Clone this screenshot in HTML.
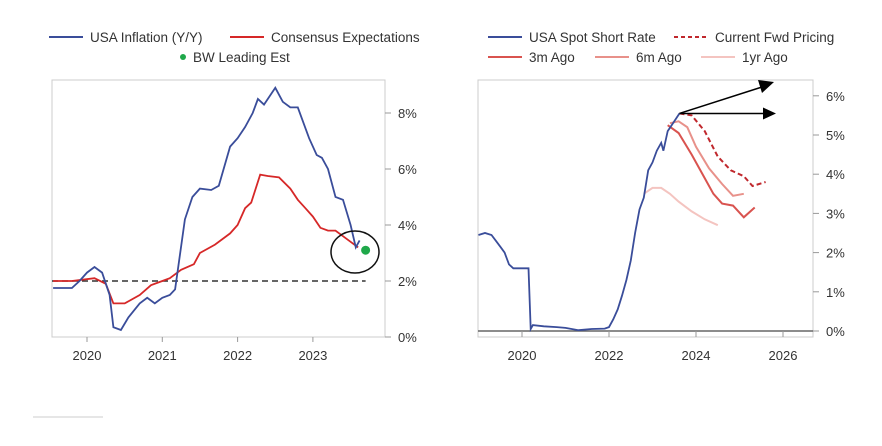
<!DOCTYPE html>
<html><head><meta charset="utf-8"><style>
body{margin:0;background:#fff;width:882px;height:441px;overflow:hidden;font-family:"Liberation Sans",sans-serif}
svg text{font-family:"Liberation Sans",sans-serif;fill:#333}
</style></head><body>
<svg id="c" width="882" height="441"></svg>
<script>
// Left chart data
const infYears=[2019.55,2019.8,2019.9,2020.0,2020.1,2020.2,2020.3,2020.35,2020.45,2020.55,2020.7,2020.8,2020.9,2021.0,2021.1,2021.17,2021.3,2021.4,2021.5,2021.65,2021.75,2021.9,2022.0,2022.1,2022.2,2022.27,2022.35,2022.5,2022.6,2022.7,2022.8,2022.95,2023.05,2023.12,2023.2,2023.3,2023.4,2023.5,2023.57,2023.62];
const infVals=[1.75,1.75,2.0,2.3,2.5,2.3,1.5,0.35,0.25,0.7,1.2,1.4,1.2,1.4,1.5,1.7,4.2,5.0,5.3,5.25,5.4,6.8,7.1,7.5,8.0,8.5,8.3,8.9,8.4,8.2,8.2,7.1,6.5,6.4,6.0,5.0,4.9,4.0,3.2,3.45];
const consYears=[2019.55,2019.8,2020.1,2020.25,2020.35,2020.5,2020.7,2020.85,2021.0,2021.1,2021.25,2021.42,2021.5,2021.7,2021.9,2022.0,2022.1,2022.18,2022.3,2022.4,2022.55,2022.7,2022.8,2022.9,2023.0,2023.1,2023.2,2023.3,2023.4,2023.5,2023.6];
const consVals=[2.0,2.0,2.1,1.9,1.2,1.2,1.5,1.85,2.0,2.1,2.4,2.6,3.0,3.3,3.7,4.0,4.6,4.8,5.8,5.75,5.7,5.3,4.9,4.6,4.3,3.9,3.8,3.8,3.6,3.4,3.2];
const bwEst=[2023.7,3.1];
const leftTicksX=[2020,2021,2022,2023];
const leftTicksY=[0,2,4,6,8];
// Right chart data
const spotYears=[2019.0,2019.15,2019.3,2019.4,2019.5,2019.6,2019.7,2019.8,2020.0,2020.15,2020.2,2020.25,2020.5,2020.8,2021.0,2021.3,2021.6,2021.9,2022.0,2022.1,2022.2,2022.3,2022.4,2022.5,2022.6,2022.7,2022.8,2022.9,2023.0,2023.1,2023.2,2023.25,2023.35,2023.5,2023.62];
const spotVals=[2.45,2.5,2.45,2.3,2.15,2.0,1.7,1.6,1.6,1.6,0.05,0.15,0.12,0.1,0.08,0.02,0.05,0.06,0.1,0.3,0.55,0.9,1.3,1.8,2.5,3.1,3.4,4.1,4.3,4.6,4.8,4.6,5.1,5.35,5.55];
const fwdYears=[2023.62,2023.9,2024.2,2024.5,2024.8,2025.1,2025.3,2025.6];
const fwdVals=[5.55,5.5,5.1,4.45,4.1,3.95,3.7,3.8];
const m3Years=[2023.35,2023.6,2023.9,2024.2,2024.4,2024.6,2024.85,2025.1,2025.35];
const m3Vals=[5.25,5.05,4.5,3.9,3.5,3.25,3.2,2.9,3.15];
const m6Years=[2023.4,2023.6,2023.8,2024.0,2024.3,2024.6,2024.85,2025.1];
const m6Vals=[5.3,5.35,5.2,4.7,4.15,3.75,3.45,3.5];
const y1Years=[2022.8,2023.0,2023.2,2023.4,2023.6,2023.9,2024.2,2024.5];
const y1Vals=[3.5,3.65,3.65,3.5,3.3,3.05,2.85,2.7];
const rightTicksX=[2020,2022,2024,2026];
const rightTicksY=[0,1,2,3,4,5,6];

const svg=document.getElementById('c');
const NS='http://www.w3.org/2000/svg';
function mk(tag,attrs,parent){const e=document.createElementNS(NS,tag);for(const k in attrs)e.setAttribute(k,attrs[k]);(parent||svg).appendChild(e);return e;}
function pts(xs,ys,fx,fy){return xs.map((x,i)=>fx(x).toFixed(1)+','+fy(ys[i]).toFixed(1)).join(' ');}

// left scales
const lx=y=>87+(y-2020)*75.3;
const ly=v=>337-v*28;
let e;
e=mk('rect',{x:52,y:80,width:333,height:257,fill:'none',stroke:'#ccc','stroke-width':1});


leftTicksX.forEach(t=>{
 e=mk('line',{x1:lx(t),x2:lx(t),y1:337,y2:342,stroke:'#999'});
 
 
 e=mk('text',{x:lx(t),y:360,'text-anchor':'middle','font-size':13});e.textContent=t;
 
 
});
leftTicksY.forEach(t=>{
 e=mk('line',{x1:385,x2:391,y1:ly(t),y2:ly(t),stroke:'#999'});
 
 
 e=mk('text',{x:398,y:ly(t)+5,'font-size':13});e.textContent=t+'%';
 
 
});
e=mk('line',{x1:52,x2:lx(bwEst[0]),y1:ly(2),y2:ly(2),stroke:'#333','stroke-width':1.5,'stroke-dasharray':'6,4'});


e=mk('polyline',{points:pts(consYears,consVals,lx,ly),fill:'none',stroke:'#d62828','stroke-width':1.8});


e=mk('polyline',{points:pts(infYears,infVals,lx,ly),fill:'none',stroke:'#3a4d9a','stroke-width':1.8});


e=mk('circle',{cx:lx(bwEst[0]),cy:ly(bwEst[1]),r:4.5,fill:'#1fa84a'});


e=mk('ellipse',{cx:355,cy:252,rx:24,ry:21,fill:'none',stroke:'#111','stroke-width':1.5});



// right scales
const rx=y=>522+(y-2020)*43.5;
const ry=v=>331-v*39.2;
e=mk('rect',{x:478,y:80,width:335,height:257,fill:'none',stroke:'#ccc','stroke-width':1});


e=mk('line',{x1:478,x2:813,y1:ry(0),y2:ry(0),stroke:'#666','stroke-width':1.5});


rightTicksX.forEach(t=>{
 e=mk('line',{x1:rx(t),x2:rx(t),y1:331,y2:337,stroke:'#999'});
 
 
 e=mk('text',{x:rx(t),y:360,'text-anchor':'middle','font-size':13});e.textContent=t;
 
 
});
rightTicksY.forEach(t=>{
 e=mk('line',{x1:813,x2:819,y1:ry(t),y2:ry(t),stroke:'#999'});
 
 
 e=mk('text',{x:826,y:ry(t)+5,'font-size':13});e.textContent=t+'%';
 
 
});
e=mk('polyline',{points:pts(y1Years,y1Vals,rx,ry),fill:'none',stroke:'#f4c4c0','stroke-width':2});


e=mk('polyline',{points:pts(m6Years,m6Vals,rx,ry),fill:'none',stroke:'#e8918a','stroke-width':2});


e=mk('polyline',{points:pts(m3Years,m3Vals,rx,ry),fill:'none',stroke:'#d9534f','stroke-width':2});


e=mk('polyline',{points:pts(fwdYears,fwdVals,rx,ry),fill:'none',stroke:'#c0282d','stroke-width':2,'stroke-dasharray':'5,3'});


e=mk('polyline',{points:pts(spotYears,spotVals,rx,ry),fill:'none',stroke:'#3a4d9a','stroke-width':1.8});


// arrows
const ax=rx(spotYears[spotYears.length-1]),ay=ry(spotVals[spotVals.length-1]);
e=mk('line',{x1:ax,y1:ay,x2:762,y2:87,stroke:'#000','stroke-width':1.5});


e=mk('polygon',{points:'774,82 758,80 762,93',fill:'#000'});


e=mk('line',{x1:ax,y1:ay,x2:765,y2:ay,stroke:'#000','stroke-width':1.5});


e=mk('polygon',{points:`776,${ay} 763,${ay-6} 763,${ay+6}`,fill:'#000'});



// legends
function legLine(x,y,color,dash,label,name){
 const g=mk('g',{});
 
 
 const a={x1:x,x2:x+34,y1:y,y2:y,stroke:color,'stroke-width':2};
 if(dash)a['stroke-dasharray']='4,3';
 mk('line',a,g);
 const t=mk('text',{x:x+41,y:y+5,'font-size':13.5},g);t.textContent=label;
}
legLine(49,37,'#3a4d9a',false,'USA Inflation (Y/Y)','legend-inflation');
legLine(230,37,'#d62828',false,'Consensus Expectations','legend-consensus');
e=mk('circle',{cx:183,cy:57,r:3,fill:'#1fa84a'});


e=mk('text',{x:193,y:62,'font-size':13.5});e.textContent='BW Leading Est';


legLine(488,37,'#3a4d9a',false,'USA Spot Short Rate','legend-spot');
legLine(674,37,'#c0282d',true,'Current Fwd Pricing','legend-fwd');
legLine(488,57,'#d9534f',false,'3m Ago','legend-3m');
legLine(595,57,'#e8918a',false,'6m Ago','legend-6m');
legLine(701,57,'#f4c4c0',false,'1yr Ago','legend-1yr');
e=mk('line',{x1:33,x2:103,y1:417,y2:417,stroke:'#ccc'});


</script>
</body></html>
